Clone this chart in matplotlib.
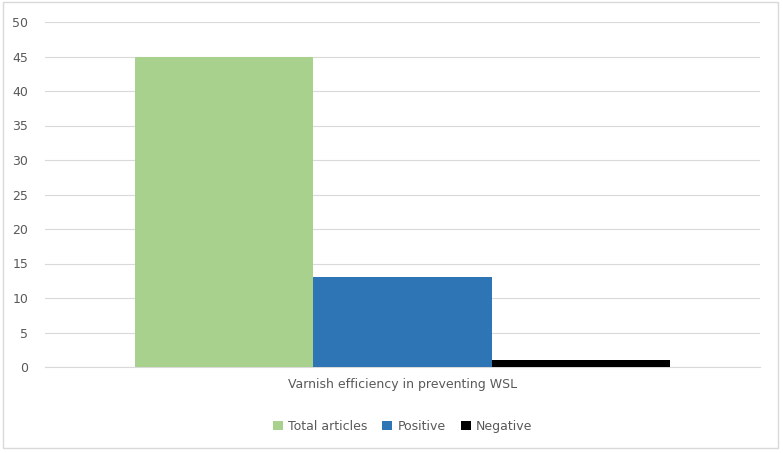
import matplotlib
matplotlib.use("Agg")
import matplotlib.pyplot as plt
from matplotlib.patches import Rectangle

category = "Varnish efficiency in preventing WSL"
series = ["Total articles", "Positive", "Negative"]
values = [45, 13, 1]
colors = ["#A9D18E", "#2E75B6", "#000000"]
yticks = [0, 5, 10, 15, 20, 25, 30, 35, 40, 45, 50]

fig = plt.figure(figsize=(7.83, 4.53), dpi=100)
fig.patches.append(Rectangle((0.004, 0.01), 0.99, 0.985, transform=fig.transFigure,
                             fill=False, edgecolor="#D9D9D9", linewidth=1))
ax = fig.add_axes([45/783, 1-367/453, 715/783, 345/453])
w = 0.249
for i, (s, v, c) in enumerate(zip(series, values, colors)):
    ax.bar((i - 1) * w, v, width=w, color=c, label=s, zorder=3)
ax.set_xlim(-0.5, 0.5)
ax.set_ylim(0, 50)
ax.set_yticks(yticks)
ax.set_xticks([0])
ax.set_xticklabels([category])
ax.grid(axis="y", color="#D9D9D9", linewidth=0.8, zorder=0)
for sp in ["top", "right", "left"]:
    ax.spines[sp].set_visible(False)
ax.spines["bottom"].set_color("#D9D9D9")
ax.tick_params(length=0, colors="#595959", labelsize=9)
ax.tick_params(axis="y", pad=12)
ax.tick_params(axis="x", pad=8)
ax.legend(loc="upper center", bbox_to_anchor=(0.5, -0.12), ncol=3, frameon=False,
          fontsize=9, labelcolor="#595959", handlelength=0.8, handleheight=0.8,
          columnspacing=1.2, handletextpad=0.4)
fig.savefig("out.png", dpi=100)
